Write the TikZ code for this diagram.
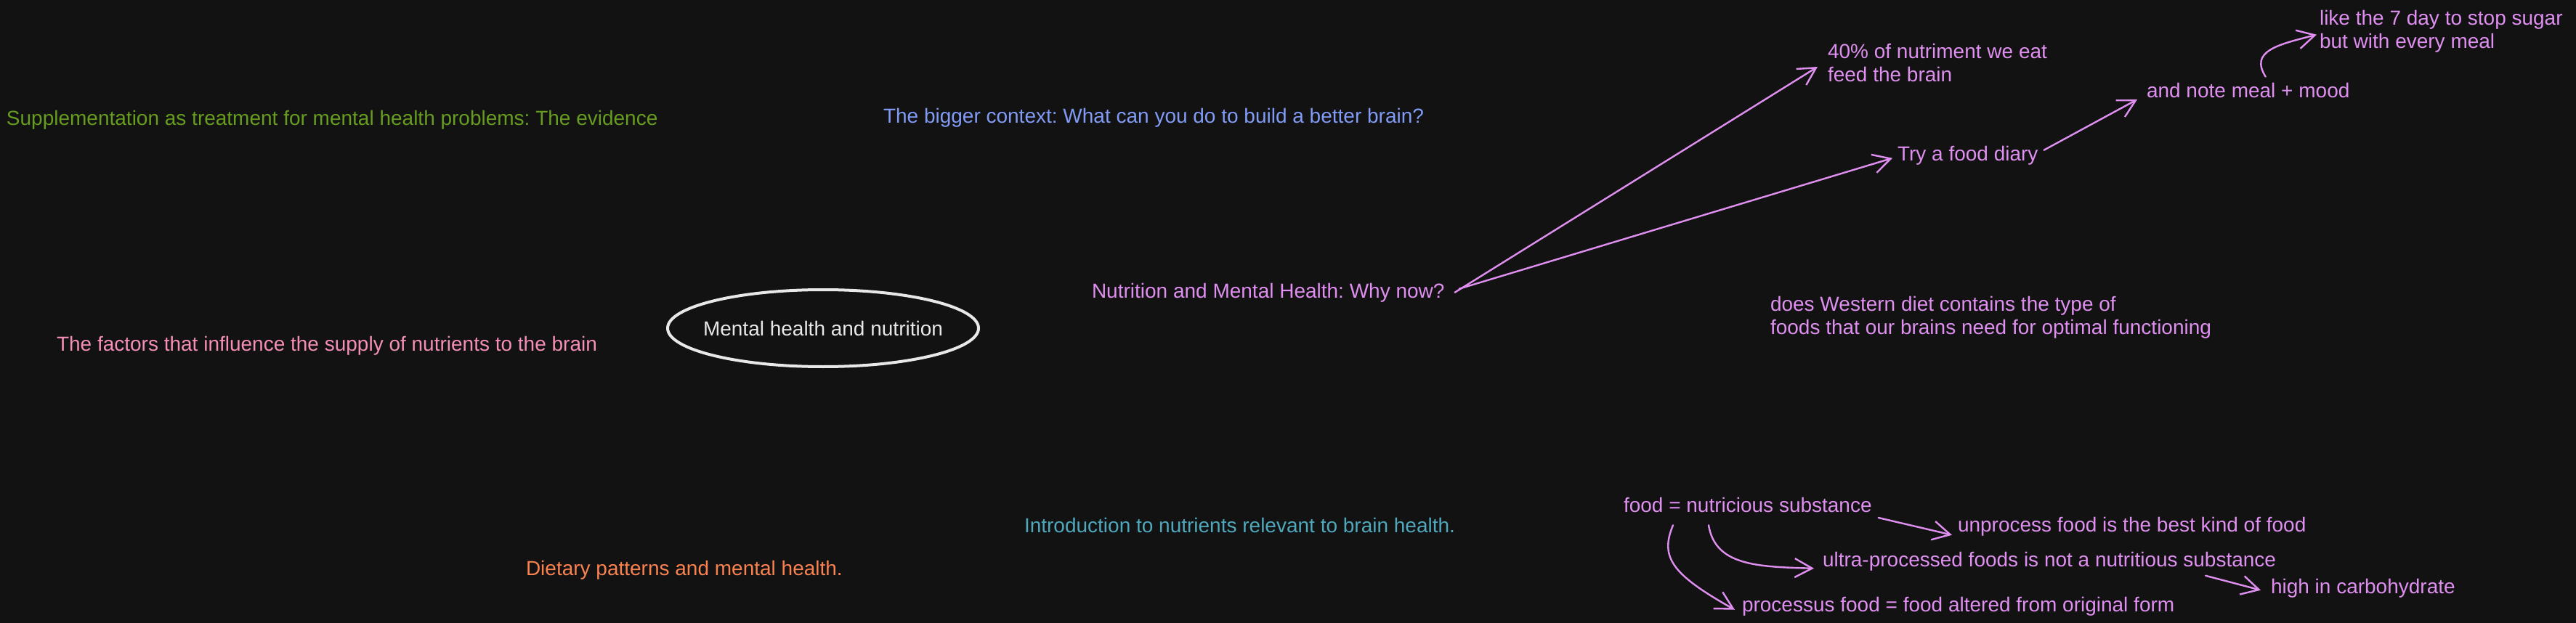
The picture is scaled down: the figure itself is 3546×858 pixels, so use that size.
\documentclass[tikz,border=0pt]{standalone}
\usepackage{fontspec}
\setmainfont{Liberation Sans}
\usetikzlibrary{arrows.meta,shapes.geometric,calc}
\definecolor{bg}{HTML}{121212}
\definecolor{cgreen}{HTML}{669D1F}
\definecolor{cblue}{HTML}{829CF6}
\definecolor{cpink}{HTML}{F68FB7}
\definecolor{cpurple}{HTML}{DF8FF0}
\definecolor{corange}{HTML}{F9824F}
\definecolor{cteal}{HTML}{4FA8BC}
\definecolor{cwhite}{HTML}{E8E8E8}
\frenchspacing
\begin{document}
\begin{tikzpicture}[x=1pt,y=-1pt,
  every node/.style={inner sep=0pt,outer sep=0pt,font=\fontsize{28}{32}\selectfont\frenchspacing},
  lbl/.style={anchor=base west,align=left},
  arr/.style={draw=cpurple,line width=2.4pt,line cap=round,line join=round,
    -{Straight Barb[length=24pt,width=26pt,line width=2.4pt]}},
  ellstroke/.style={draw=cwhite,line width=4pt}]
\useasboundingbox (0,0) rectangle (3546,858);
\fill[bg] (0,0) rectangle (3546,858);

% left / middle topics
\node[lbl,text=cgreen] (supp) at (9,173) {Supplementation as treatment for mental health problems: The evidence};
\node[lbl,text=cblue] (bigger) at (1216,170) {The bigger context: What can you do to build a better brain?};
\node[lbl,text=cpink] (factors) at (78,483) {The factors that influence the supply of nutrients to the brain};
\node[text=cwhite] (main) at (1133,452) {Mental health and nutrition};
\draw[ellstroke] (main.center) ellipse [x radius=214, y radius=53];
\node[lbl,text=corange] (dietary) at (724,792) {Dietary patterns and mental health.};
\node[lbl,text=cteal] (intro) at (1410,733) {Introduction to nutrients relevant to brain health.};

% purple notes
\node[lbl,text=cpurple] (why) at (1503,410) {Nutrition and Mental Health: Why now?};
\node[lbl,text=cpurple] (brain) at (2516,113) {40\% of nutriment we eat\\feed the brain};
\node[lbl,text=cpurple] (diary) at (2612,222) {Try a food diary};
\node[lbl,text=cpurple] (meal) at (2955,135) {and note meal + mood};
\node[lbl,text=cpurple] (sugar) at (3193,67) {like the 7 day to stop sugar\\but with every meal};
\node[lbl,text=cpurple] (western) at (2437,460) {does Western diet contains the type of\\foods that our brains need for optimal functioning};
\node[lbl,text=cpurple] (food) at (2235,705) {food = nutricious substance};
\node[lbl,text=cpurple] (unproc) at (2695,732) {unprocess food is the best kind of food};
\node[lbl,text=cpurple] (ultra) at (2509,780) {ultra-processed foods is not a nutritious substance};
\node[lbl,text=cpurple] (processus) at (2398,842) {processus food = food altered from original form};
\node[lbl,text=cpurple] (carb) at (3126,817) {high in carbohydrate};

% connectors
\draw[arr] ($(why.east)+(14,0)$) -- ($(brain.west)+(-14,5)$);
\draw[arr] ($(why.east)+(20,-5)$) -- ($(diary.west)+(-7,3)$);
\draw[arr] ($(diary.east)+(8,-8)$) -- ($(meal.west)+(-13,12)$);
\draw[arr] ($(meal.north)+(24,-9)$) .. controls +(-22,-35) and +(-55,14) .. ($(sugar.west)+(-4,4)$);
\draw[arr] ($(food.east)+(9,18)$) -- ($(unproc.west)+(-8,12)$);
\draw[arr] ($(food.south west)+(117,18)$) .. controls +(9,55) and +(-80,-2) .. ($(ultra.west)+(-12,10)$);
\draw[arr] ($(food.south west)+(68,18)$) .. controls +(-19,45) and +(-85,-48) .. ($(processus.west)+(-10,5)$);
\draw[arr] ($(ultra.south east)+(-97,7)$) -- ($(carb.west)+(-14,3)$);
\end{tikzpicture}
\end{document}
